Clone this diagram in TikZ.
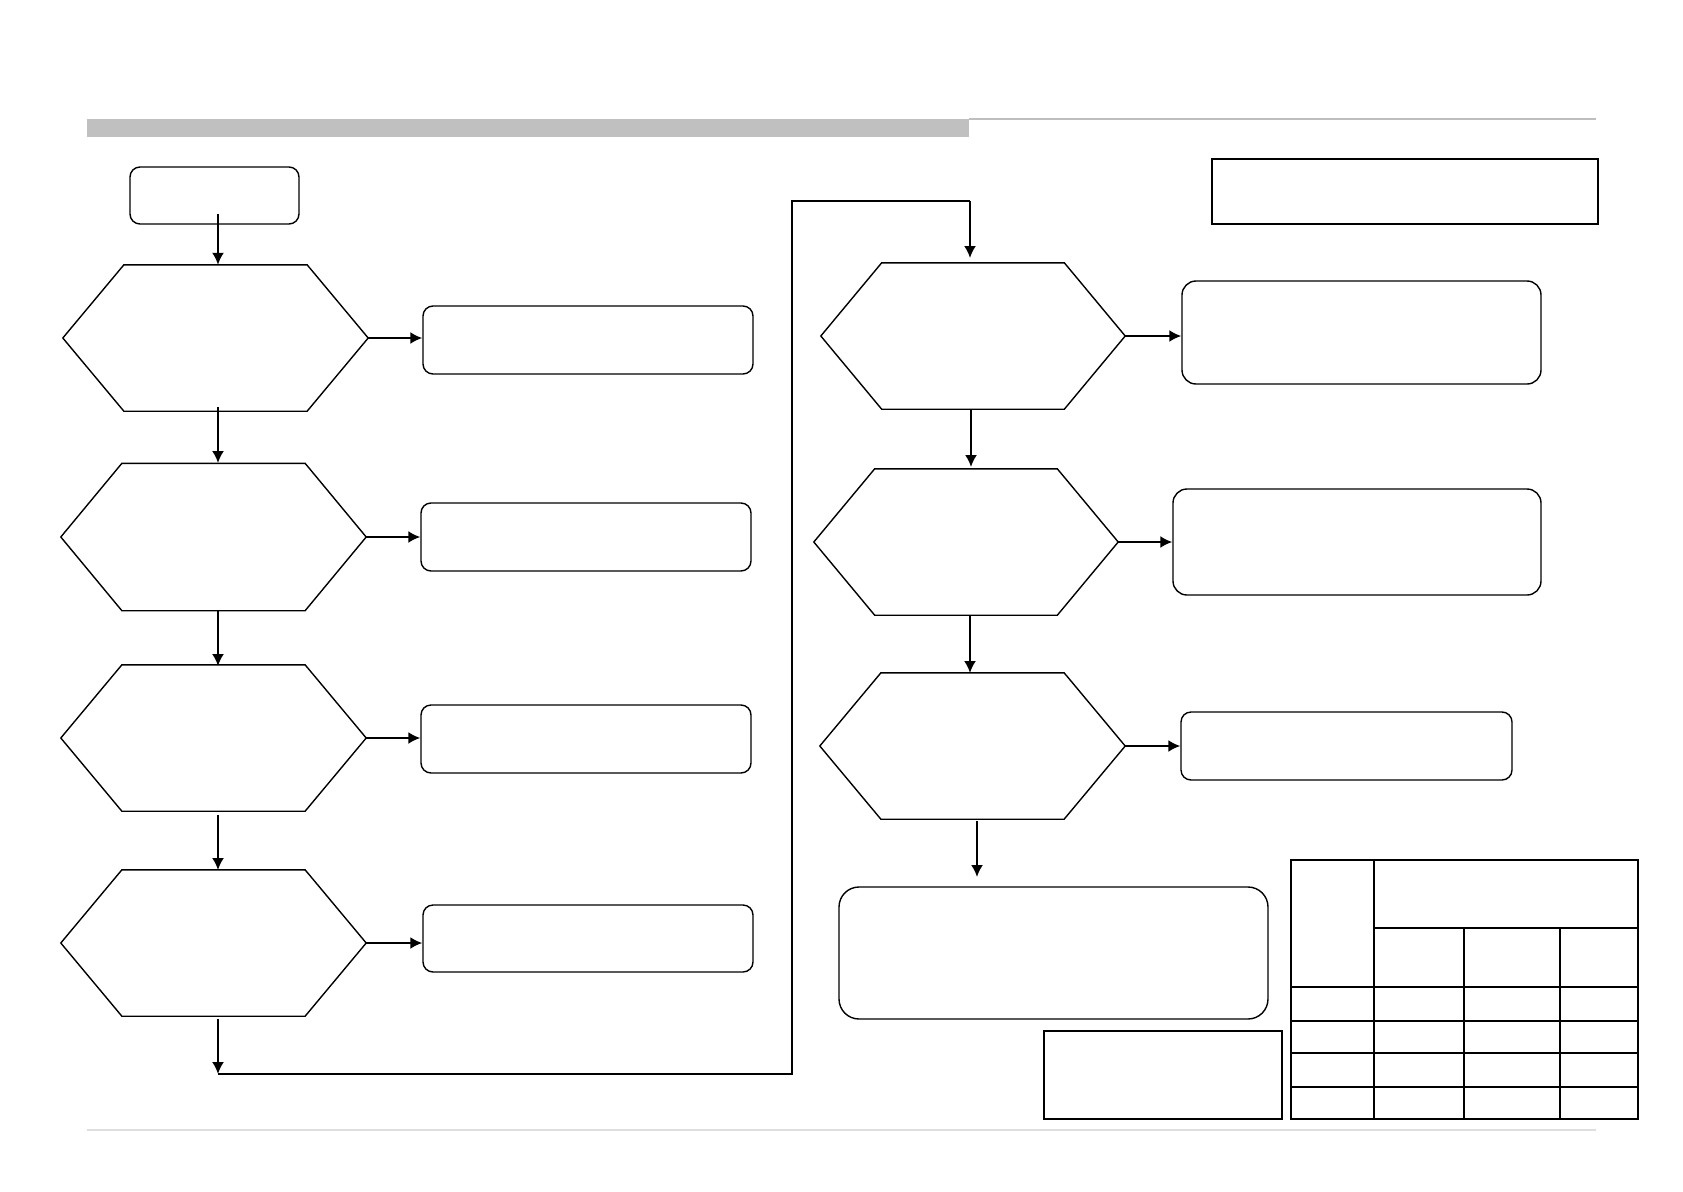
\documentclass[tikz,border=0pt]{standalone}
\usetikzlibrary{arrows.meta,calc}
\definecolor{barg}{RGB}{192,192,192}
\definecolor{ruleg}{RGB}{190,190,190}
\definecolor{footg}{RGB}{222,222,222}
\newcommand{\hexoutline}[1]{%
  \draw[hexline] (#1.west) -- ($(#1.north west)!0.2!(#1.north east)$)
      -- ($(#1.north east)!0.2!(#1.north west)$) -- (#1.east)
      -- ($(#1.south east)!0.2!(#1.south west)$)
      -- ($(#1.south west)!0.2!(#1.south east)$) -- cycle;}
\begin{document}
\begin{tikzpicture}[x=1pt,y=-1pt,
  hex/.style={draw=none, inner sep=0pt, minimum width=305pt, minimum height=146pt},
  hexline/.style={draw=black, line width=1.4pt, line join=miter},
  rbox/.style={draw, line width=1.4pt, rounded corners=10pt, inner sep=0pt},
  sbox/.style={draw, line width=2.2pt, inner sep=0pt},
  arr/.style={line width=2pt, -{Latex[length=12pt,width=12pt]}},
  conn/.style={line width=2.2pt},
  tbl/.style={line width=2.6pt}]
\useasboundingbox[fill=white] (0,0) rectangle (1683,1191);
% header bar and rules
\fill[barg] (87,119) rectangle (969,137);
\draw[line width=1.5pt, ruleg] (969,119) -- (1596,119);
\draw[line width=1.2pt, footg] (87,1130) -- (1596,1130);
% start box
\node[rbox, minimum width=169pt, minimum height=57pt] (start) at (214.5,195.5) {};
% hexagons left
\node[hex] (h1) at (215.5,338) {};
\node[hex, minimum height=147pt] (h2) at (213.5,537) {};
\node[hex] (h3) at (213.5,738) {};
\node[hex] (h4) at (213.5,943) {};
% hexagons right
\node[hex, minimum width=304pt] (h5) at (973,336) {};
\node[hex, minimum width=304pt] (h6) at (966,542) {};
\node[hex, minimum width=305pt] (h7) at (972.5,746) {};
\foreach \hh in {h1,h2,h3,h4,h5,h6,h7} {\hexoutline{\hh}}
% boxes left
\node[rbox, minimum width=330pt, minimum height=68pt] (b1) at (588,340) {};
\node[rbox, minimum width=330pt, minimum height=68pt] (b2) at (586,537) {};
\node[rbox, minimum width=330pt, minimum height=68pt] (b3) at (586,739) {};
\node[rbox, minimum width=330pt, minimum height=67pt] (b4) at (588,938.5) {};
% boxes right
\node[rbox, minimum width=359pt, minimum height=103pt, rounded corners=14pt] (b5) at (1361.5,332.5) {};
\node[rbox, minimum width=368pt, minimum height=106pt, rounded corners=14pt] (b6) at (1357,542) {};
\node[rbox, minimum width=331pt, minimum height=68pt] (b7) at (1346.5,746) {};
\node[rbox, minimum width=429pt, minimum height=132pt, rounded corners=20pt] (b8) at (1053.5,953) {};
% plain boxes
\node[sbox, minimum width=386pt, minimum height=65pt] (note) at (1405,191.5) {};
\node[sbox, line width=1.8pt, minimum width=238pt, minimum height=88pt] (small) at (1163,1075) {};
% connectors left column
\coordinate (s0) at (218,214);
\draw[arr] (s0) -- (s0 |- h1.north);
\draw[arr] (218,407) -- (218,463);
\draw[arr] (218,610) -- (218,666);
\draw[arr] (218,815) -- (218,870);
\coordinate (c1) at (218,1074);
\coordinate (c2) at (792,1074);
\coordinate (c3) at (792,201);
\coordinate (c4) at (970,201);
\coordinate (c5) at (970,258);
\draw[arr] (218,1019) -- (c1);
\draw[conn] (c1) -- (c2) -- (c3) -- (c4);
\draw[arr] (c4) -- (c5);
\draw[arr] (h1.east) -- (h1.east -| b1.west);
\draw[arr] (h2.east) -- (h2.east -| b2.west);
\draw[arr] (h3.east) -- (h3.east -| b3.west);
\draw[arr] (h4.east) -- (h4.east -| b4.west);
% connectors right column
\draw[arr] (971,409) -- (971,467);
\draw[arr] (970,615) -- (970,673);
\draw[arr] (977,821) -- (977,877);
\draw[arr] (h5.east) -- (h5.east -| b5.west);
\draw[arr] (h6.east) -- (h6.east -| b6.west);
\draw[arr] (h7.east) -- (h7.east -| b7.west);
% table
\node[draw, tbl, inner sep=0pt, minimum width=347pt, minimum height=259pt] (table) at (1464.5,989.5) {};
\draw[tbl] (1374,860) -- (1374,1119);
\draw[tbl] (1374,928) -- (1638,928);
\draw[tbl] (1464,928) -- (1464,1119);
\draw[tbl] (1560,928) -- (1560,1119);
\foreach \yy in {987,1021,1053,1087} \draw[tbl] (1291,\yy) -- (1638,\yy);
\end{tikzpicture}
\end{document}
